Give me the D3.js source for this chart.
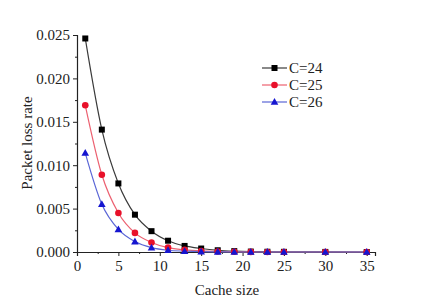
<!DOCTYPE html>
<html>
<head>
<meta charset="utf-8">
<script src="https://cdn.jsdelivr.net/npm/d3@7"></script>
<style>
  body { margin: 0; background: #fff; }
</style>
</head>
<body>
<svg id="chart" width="434" height="302"></svg>
<script>
// cache sizes on the x axis
const cacheSizes = [1, 3, 5, 7, 9, 11, 13, 15, 17, 19, 21, 23, 25, 30, 35];
// packet loss rate for each C
const lossC24 = [0.0246, 0.0141, 0.0079, 0.0043, 0.0024, 0.0013, 0.0007, 0.0004, 0.0002, 0.0001, 0.00005, 0.00003, 0.00002, 0.00001, 0.0];
const lossC25 = [0.0169, 0.0089, 0.0045, 0.0022, 0.0011, 0.0005, 0.00025, 0.00012, 0.00006, 0.00003, 0.00001, 0.0, 0.0, 0.0, 0.0];
const lossC26 = [0.0114, 0.0055, 0.0026, 0.0012, 0.0005, 0.0002, 0.0001, 0.00004, 0.00002, 0.0, 0.0, 0.0, 0.0, 0.0, 0.0];
const seriesNames = ['C=24', 'C=25', 'C=26'];
const xTicks = [0, 5, 10, 15, 20, 25, 30, 35];
const yTicks = [0, 0.005, 0.010, 0.015, 0.020, 0.025];

const FONT = "'Liberation Serif', 'Times New Roman', serif";

const svg = d3.select('#chart');

const x = d3.scaleLinear().domain([0, 36]).range([77, 375]);
const y = d3.scaleLinear().domain([0, 0.025]).range([252, 35]);

const series = [
  {name: seriesNames[0], values: lossC24, marker: 'square',   fill: '#000',    stroke: '#3a3a3a'},
  {name: seriesNames[1], values: lossC25, marker: 'circle',   fill: '#e8102a', stroke: '#ec6070'},
  {name: seriesNames[2], values: lossC26, marker: 'triangle', fill: '#1515d0', stroke: '#5a66d6'}
];

// axes, ticks pointing outward
let xAxis = svg.append('g').attr('transform', 'translate(0,252)')
  .call(d3.axisBottom(x).tickValues(xTicks).tickSize(4).tickPadding(4).tickFormat(d3.format('d')));
let xMinor = svg.append('g').attr('transform', 'translate(0,252)')
  .call(d3.axisBottom(x).tickValues(d3.range(2.5, 36, 5)).tickSize(2).tickFormat(''));
let yAxis = svg.append('g').attr('transform', 'translate(77,0)')
  .call(d3.axisLeft(y).tickValues(yTicks).tickSize(4).tickPadding(3).tickFormat(d3.format('.3f')));
let yMinor = svg.append('g').attr('transform', 'translate(77,0)')
  .call(d3.axisLeft(y).tickValues(d3.range(0.0025, 0.025, 0.005)).tickSize(2).tickFormat(''));

[xAxis, xMinor, yAxis, yMinor].forEach(a => {
  a.attr('font-family', null).attr('font-size', null);
  a.select('.domain').attr('stroke', '#222').attr('stroke-width', 1.2);
  a.selectAll('line').attr('stroke', '#222').attr('stroke-width', 1);
  a.selectAll('text').style('font-size', '15px').style('font-family', FONT).attr('fill', '#222');
});
xMinor.select('.domain').remove();
yMinor.select('.domain').remove();

// axis titles
svg.append('text')
   .attr('x', 227).attr('y', 295)
   .attr('text-anchor', 'middle')
   .style('font-size', '15px').style('font-family', FONT).attr('fill', '#222')
   .text('Cache size');

svg.append('text')
   .attr('transform', 'translate(32,143) rotate(-90)')
   .attr('text-anchor', 'middle')
   .style('font-size', '15px').style('font-family', FONT).attr('fill', '#222')
   .text('Packet loss rate');

const line = d3.line()
  .x(d => x(d[0]))
  .y(d => y(d[1]))
  .curve(d3.curveMonotoneX);

function drawMarker(g, type, cx, cy, fill) {
  if (type === 'square') {
    g.append('rect').attr('x', cx - 3).attr('y', cy - 3).attr('width', 6).attr('height', 6).attr('fill', fill);
  } else if (type === 'circle') {
    g.append('circle').attr('cx', cx).attr('cy', cy).attr('r', 3.3).attr('fill', fill);
  } else {
    g.append('path')
     .attr('d', `M${cx},${cy - 4}L${cx + 3.8},${cy + 2.8}L${cx - 3.8},${cy + 2.8}Z`)
     .attr('fill', fill);
  }
}

series.forEach(s => {
  let pts = cacheSizes.map((c, i) => [c, s.values[i]]);
  svg.append('path')
     .datum(pts)
     .attr('d', line)
     .attr('fill', 'none')
     .attr('stroke', s.stroke)
     .attr('stroke-width', 1.2);
});

series.forEach(s => {
  let g = svg.append('g');
  cacheSizes.forEach((c, i) => drawMarker(g, s.marker, x(c), y(s.values[i]), s.fill));
});

// legend
series.forEach((s, i) => {
  let ly = 68 + i * 17;
  let g = svg.append('g');
  g.append('line').attr('x1', 262).attr('x2', 287).attr('y1', ly).attr('y2', ly)
   .attr('stroke', s.stroke).attr('stroke-width', 1.2);
  drawMarker(g, s.marker, 274.5, ly, s.fill);
  g.append('text').attr('x', 289).attr('y', ly + 5)
   .style('font-size', '15px').style('font-family', FONT).attr('fill', '#222')
   .text(s.name);
});
</script>
</body>
</html>
